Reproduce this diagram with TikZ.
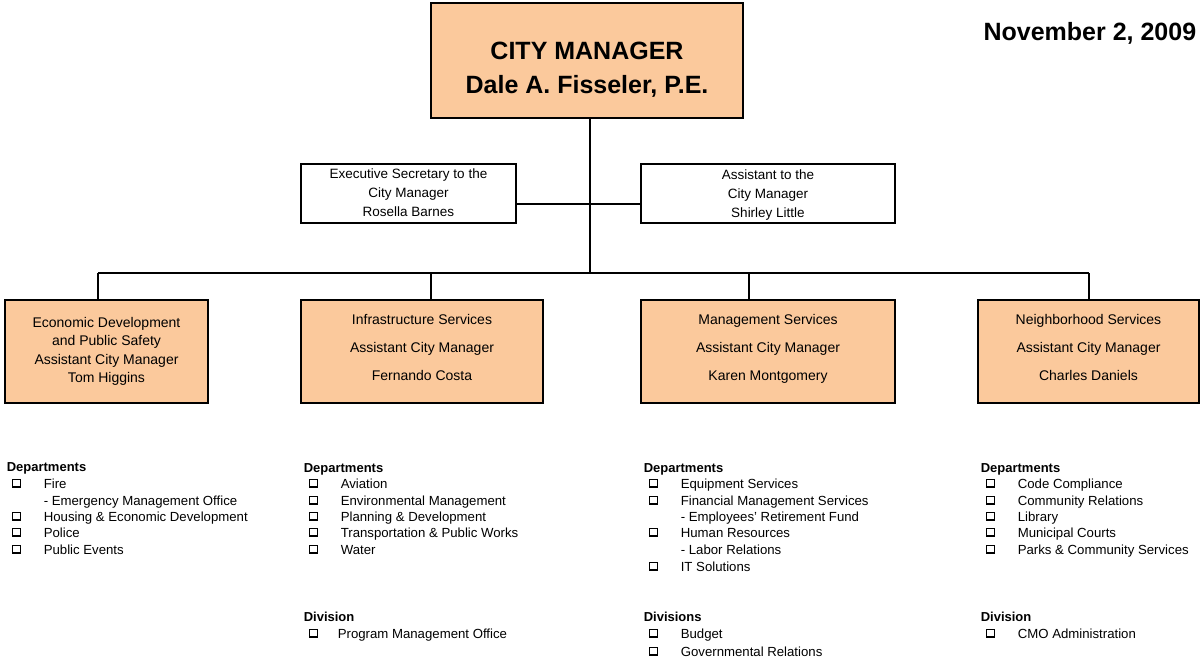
\documentclass[tikz,border=0pt]{standalone}
\usepackage{fontspec}
\setmainfont{Liberation Sans}
\definecolor{peach}{RGB}{251,201,156}
\tikzset{
  chief/.style={draw, line width=1.6pt, fill=peach, inner sep=0pt},
  staff/.style={draw, line width=1.4pt, fill=white, align=center, inner sep=0pt,
    text depth=1pt, font=\fontsize{13.5}{19}\selectfont},
  acm/.style={draw, line width=1.4pt, fill=peach, align=center, inner sep=0pt,
    minimum height=103pt, font=\fontsize{14}{18.5}\selectfont},
  head/.style={anchor=west, inner sep=0pt, font=\fontsize{13}{15}\bfseries,
    text height=13.5pt, text depth=2.5pt},
  item/.style={anchor=west, inner sep=0pt, font=\fontsize{13.2}{15}\selectfont,
    text height=13.5pt, text depth=2.5pt},
  tick/.style={draw, line width=0.9pt, minimum size=8pt, inner sep=0pt,
    path picture={\draw[line width=2.6pt] (path picture bounding box.south west)
      -- (path picture bounding box.south east);}}
}
\begin{document}
\begin{tikzpicture}[x=1pt, y=-1pt, line width=1.6pt]
  \useasboundingbox (0,0) rectangle (1200,658);

  \node[chief, minimum width=312pt, minimum height=115pt,
    label={[yshift=-9.5pt, align=center, font=\fontsize{25}{34}\bfseries]center:CITY MANAGER\\Dale A. Fisseler, P.E.}]
    (cm) at (587,60.5) {};
  \node[anchor=east, inner sep=0pt, font=\fontsize{25}{30}\bfseries] (date) at (1197,33) {November 2, 2009};

  \node[staff, minimum width=215pt, minimum height=59pt] (sec) at (408.5,193.5)
    {Executive Secretary to the\\City Manager\\Rosella Barnes};
  \node[staff, minimum width=254pt, minimum height=59pt, text depth=-2pt] (asst) at (768,193.5)
    {Assistant to the\\City Manager\\Shirley Little};

  \coordinate (split) at (590,204);
  \coordinate (bar) at (590,273);
  \draw (cm.south -| bar) -- (bar);
  \draw (sec.east |- split) -- (asst.west |- split);

  \node[acm, minimum width=203pt] (acm1) at (106.5,351.5)
    {Economic Development\\and Public Safety\\Assistant City Manager\\Tom Higgins};
  \node[acm, minimum width=242pt, text depth=9pt] (acm2) at (422,351.5)
    {Infrastructure Services\\[9.5pt]Assistant City Manager\\[9.5pt]Fernando Costa};
  \node[acm, minimum width=254pt, text depth=9pt] (acm3) at (768,351.5)
    {Management Services\\[9.5pt]Assistant City Manager\\[9.5pt]Karen Montgomery};
  \node[acm, minimum width=221pt, text depth=9pt] (acm4) at (1088.5,351.5)
    {Neighborhood Services\\[9.5pt]Assistant City Manager\\[9.5pt]Charles Daniels};

  \foreach \n/\x in {1/98, 2/431, 3/749, 4/1089}{
    \coordinate (drop\n) at (\x,273);
    \draw (drop\n) -- (acm\n.north -| drop\n);
  }
  \draw (drop1) -- (drop4);

  % departments under each assistant city manager
  \node[head] (hd1) at (6,466) {Departments};
  \foreach \y/\t/\b in {483/Fire/1, 500/- Emergency Management Office/0,
      516/Housing \& Economic Development/1, 532/Police/1, 549/Public Events/1}{
    \node[item] (ia\y) at (43,\y) {\t};
    \ifnum\b=1 \node[tick] (ba\y) at (16,\y) {}; \fi
  }

  \node[head] (hd2) at (303,467) {Departments};
  \foreach \y/\t in {483/Aviation, 500/Environmental Management, 516/Planning \& Development,
      532/Transportation \& Public Works, 549/Water}{
    \node[item] (ib\y) at (340,\y) {\t};
    \node[tick] (bb\y) at (313,\y) {};
  }
  \node[head] (hv2) at (303,616) {Division};
  \node[item] (ib633) at (337,633) {Program Management Office};
  \node[tick] (bb633) at (313,633) {};

  \node[head] (hd3) at (643,467) {Departments};
  \foreach \y/\t/\b in {483/Equipment Services/1, 500/Financial Management Services/1,
      516/- Employees' Retirement Fund/0, 532/Human Resources/1,
      549/- Labor Relations/0, 566/IT Solutions/1, 633/Budget/1, 651/Governmental Relations/1}{
    \node[item] (ic\y) at (680,\y) {\t};
    \ifnum\b=1 \node[tick] (bc\y) at (653,\y) {}; \fi
  }
  \node[head] (hv3) at (643,616) {Divisions};

  \node[head] (hd4) at (980,467) {Departments};
  \foreach \y/\t in {483/Code Compliance, 500/Community Relations, 516/Library,
      532/Municipal Courts, 549/Parks \& Community Services, 633/CMO Administration}{
    \node[item] (id\y) at (1017,\y) {\t};
    \node[tick] (bd\y) at (990,\y) {};
  }
  \node[head] (hv4) at (980,616) {Division};
\end{tikzpicture}
\end{document}
